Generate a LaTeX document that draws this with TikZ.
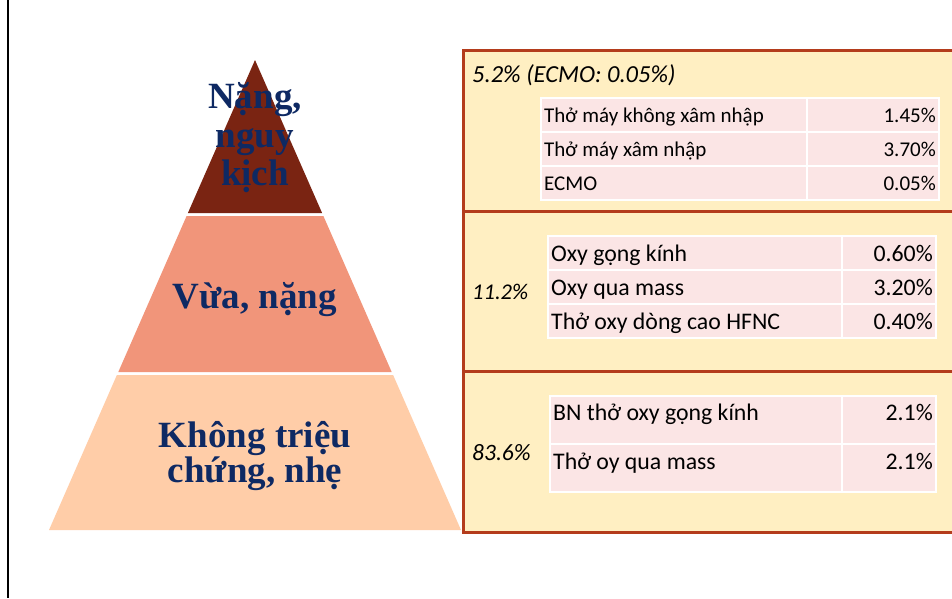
\documentclass[tikz,border=0pt]{standalone}
\usepackage{fontspec}
\setmainfont{Carlito}
\newfontfamily\pyrfont{Liberation Serif}
\definecolor{pyrtop}{HTML}{7A2412}
\definecolor{pyrmid}{HTML}{F1957A}
\definecolor{pyrbot}{HTML}{FFCDA8}
\definecolor{pyrtext}{HTML}{0E2963}
\definecolor{boxfill}{HTML}{FFEFC2}
\definecolor{boxline}{HTML}{B43C1C}
\definecolor{cellfill}{HTML}{FBE5E5}
\tikzset{
  pyrlabel/.style={anchor=base, inner sep=0pt, text=pyrtext,
    font=\pyrfont\bfseries\fontsize{37}{40}\selectfont},
  band/.style={draw=boxline, line width=3pt, fill=boxfill},
  cell/.style={fill=cellfill, draw=white, line width=2pt},
  smalltxt/.style={anchor=base west, inner sep=0pt, font=\fontsize{21}{25}\selectfont},
  smallnum/.style={anchor=base east, inner sep=0pt, font=\fontsize{21}{25}\selectfont},
  bigtxt/.style={anchor=base west, inner sep=0pt, font=\fontsize{23.8}{27}\selectfont},
  bignum/.style={anchor=base east, inner sep=0pt, font=\fontsize{23.8}{27}\selectfont},
  share/.style={anchor=base west, inner sep=0pt, font=\itshape\fontsize{22.5}{26}\selectfont},
}
\begin{document}
\begin{tikzpicture}[x=1pt, y=-1pt]
\useasboundingbox (0,0) rectangle (952,598);
\clip (0,0) rectangle (952,598);
\fill[white] (0,0) rectangle (952,598);

% left margin rule
\draw[line width=2.5pt, black] (8,0) -- (8,598);

% pyramid layers
\fill[pyrtop] (255,60) -- (322.1,213) -- (187.9,213) -- cycle;
\fill[pyrmid] (186.6,216) -- (323.4,216) -- (391.7,372) -- (118.3,372) -- cycle;
\fill[pyrbot] (116.9,375) -- (393.1,375) -- (461,530) -- (49,530) -- cycle;

\node[pyrlabel] (top1) at (255,108) {Nặng,};
\node[pyrlabel] (top2) at (255,147) {nguy};
\node[pyrlabel] (top3) at (255,185) {kịch};
\node[pyrlabel] (mid1) at (255,308) {Vừa, nặng};
\node[pyrlabel] (bot1) at (255,447) {Không triệu};
\node[pyrlabel] (bot2) at (255,482) {chứng, nhẹ};

% right-hand bands
\draw[band] (463,50) rectangle (970,211);
\draw[band] (463,211) rectangle (970,371);
\draw[band] (463,371) rectangle (970,532);

% severe: table
\draw[cell] (541,98) rectangle (807,132);
\draw[cell] (807,98) rectangle (939,132);
\draw[cell] (541,132) rectangle (807,166);
\draw[cell] (807,132) rectangle (939,166);
\draw[cell] (541,166) rectangle (807,200);
\draw[cell] (807,166) rectangle (939,200);
\node[share, font=\itshape\fontsize{24.5}{28}\selectfont] (s1) at (472,82) {5.2\% (ECMO: 0.05\%)};
\node[smalltxt] (a1) at (544,122) {Thở máy không xâm nhập};
\node[smallnum] (a1v) at (936,122) {1.45\%};
\node[smalltxt] (a2) at (544,156) {Thở máy xâm nhập};
\node[smallnum] (a2v) at (936,156) {3.70\%};
\node[smalltxt] (a3) at (544,190) {ECMO};
\node[smallnum] (a3v) at (936,190) {0.05\%};

% moderate: table
\draw[cell] (548,236) rectangle (842,270);
\draw[cell] (842,236) rectangle (936,270);
\draw[cell] (548,270) rectangle (842,304);
\draw[cell] (842,270) rectangle (936,304);
\draw[cell] (548,304) rectangle (842,338);
\draw[cell] (842,304) rectangle (936,338);
\node[share] (s2) at (472,299) {11.2\%};
\node[bigtxt] (b1) at (551,261) {Oxy gọng kính};
\node[bignum] (b1v) at (933,261) {0.60\%};
\node[bigtxt] (b2) at (551,295) {Oxy qua mass};
\node[bignum] (b2v) at (933,295) {3.20\%};
\node[bigtxt] (b3) at (551,329) {Thở oxy dòng cao HFNC};
\node[bignum] (b3v) at (933,329) {0.40\%};

% mild: table
\draw[cell] (550,396) rectangle (842,444);
\draw[cell] (842,396) rectangle (936,444);
\draw[cell] (550,444) rectangle (842,492);
\draw[cell] (842,444) rectangle (936,492);
\node[share, font=\itshape\fontsize{23.5}{27}\selectfont] (s3) at (472,460) {83.6\%};
\node[bigtxt] (c1) at (553,420) {BN thở oxy gọng kính};
\node[bignum] (c1v) at (933,420) {2.1\%};
\node[bigtxt] (c2) at (553,469) {Thở oy qua mass};
\node[bignum] (c2v) at (933,469) {2.1\%};
\end{tikzpicture}
\end{document}
